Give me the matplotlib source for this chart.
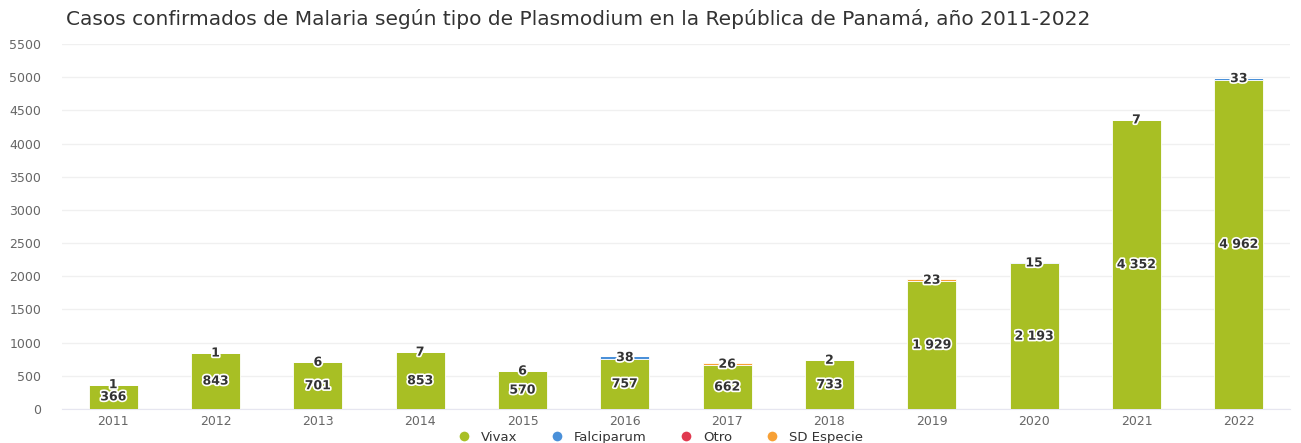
import matplotlib
matplotlib.use("Agg")
import matplotlib.pyplot as plt
import matplotlib.patheffects as pe
import numpy as np

years = ["2011", "2012", "2013", "2014", "2015", "2016", "2017", "2018", "2019", "2020", "2021", "2022"]
vivax = [366, 843, 701, 853, 570, 757, 662, 733, 1929, 2193, 4352, 4962]
falciparum = [1, 1, 6, 7, 6, 38, 0, 2, 0, 15, 7, 33]
otro = [0, 0, 0, 0, 0, 0, 0, 0, 0, 0, 0, 0]
sd_especie = [0, 0, 0, 0, 0, 0, 26, 0, 23, 0, 0, 0]

series_names = ["Vivax", "Falciparum", "Otro", "SD Especie"]
colors = ["#a8bf24", "#4a90d9", "#e0394f", "#f7a035"]

title = "Casos confirmados de Malaria según tipo de Plasmodium en la República de Panamá, año 2011-2022"
yticks = list(range(0, 5501, 500))

def fmt(v):
    return f"{v:,}".replace(",", " ")

fig = plt.figure(figsize=(13.01, 4.43), dpi=100)
ax = fig.add_axes([0.0477, 0.0767, 0.9438, 0.824])

x = np.arange(len(years))
width = 0.48
outline = [pe.withStroke(linewidth=2.4, foreground="white")]

bottoms = np.zeros(len(years))
all_series = [vivax, falciparum, otro, sd_especie]
for vals, name, col in zip(all_series, series_names, colors):
    vals = np.array(vals, dtype=float)
    ax.bar(x, vals, width, bottom=bottoms, color=col, edgecolor="white",
           linewidth=0.6, label=name, zorder=3)
    bottoms = bottoms + vals

# labels
for i in range(len(years)):
    ax.text(x[i], vivax[i] / 2, fmt(vivax[i]), ha="center", va="center",
            fontsize=9, fontweight="bold", color="#333333", path_effects=outline, zorder=5)
    small = falciparum[i] + otro[i] + sd_especie[i]
    if small > 0:
        ax.text(x[i], vivax[i] + small / 2, fmt(small), ha="center", va="center",
                fontsize=9, fontweight="bold", color="#333333", path_effects=outline, zorder=5)

ax.set_xlim(-0.5, len(years) - 0.5)
ax.set_ylim(0, 5500)
ax.set_yticks(yticks)
ax.set_yticklabels([str(v) for v in yticks])
ax.set_xticks(x)
ax.set_xticklabels(years)
ax.tick_params(axis="both", length=0, labelsize=9, colors="#666666")
ax.tick_params(axis="y", pad=15)
ax.tick_params(axis="x", pad=4)
for lab in ax.get_yticklabels():
    lab.set_horizontalalignment("right")
ax.grid(axis="y", color="#f0f0f0", linewidth=1, zorder=0)
for s in ["top", "right", "left"]:
    ax.spines[s].set_visible(False)
ax.spines["bottom"].set_color("#e6e6f0")
ax.set_axisbelow(True)

fig.text(0.051, 0.958, title, fontsize=14.5, color="#333333", ha="left", va="center")

handles = [plt.Line2D([0], [0], marker="o", color="w", markerfacecolor=c, markersize=8)
           for c in colors]
fig.legend(handles, series_names, loc="center", bbox_to_anchor=(0.505, 0.013),
           ncol=4, frameon=False, fontsize=9.5, handletextpad=0.3, columnspacing=2.0,
           labelcolor="#333333")

fig.savefig("out.png", dpi=100, facecolor="white")
